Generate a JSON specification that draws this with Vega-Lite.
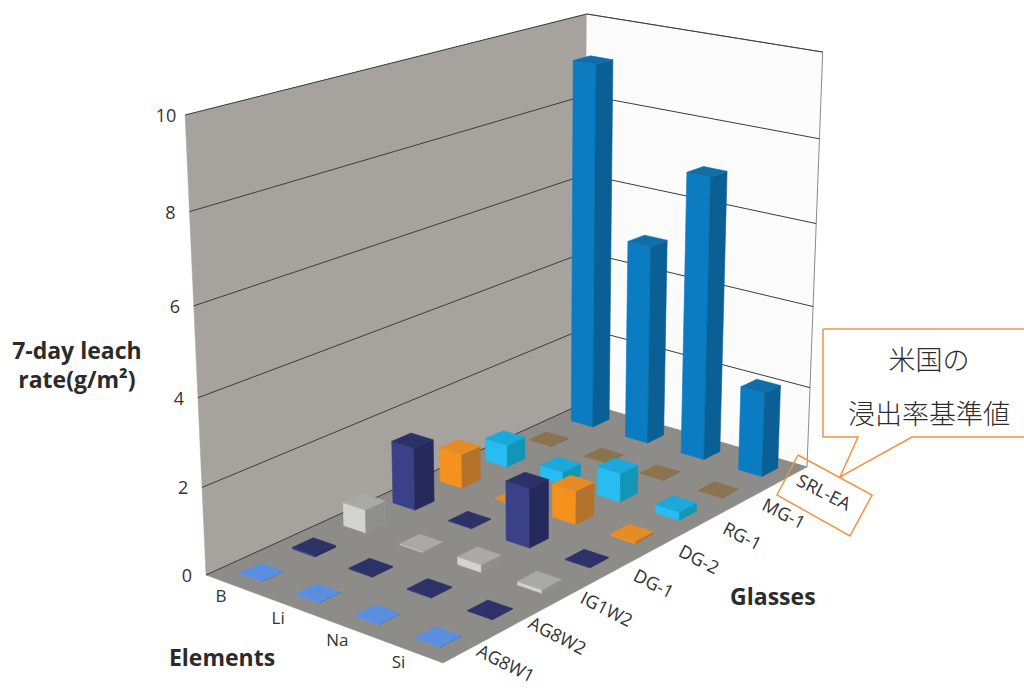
{
  "$schema": "https://vega.github.io/schema/vega-lite/v6.json",
  "width": 1024,
  "height": 688,
  "autosize": {"type": "fit", "contains": "padding"},
  "padding": 0,
  "background": "white",
  "view": {"stroke": null},
  "config": {"text": {"font": "Open Sans"}},
  "datasets": {
    "bars": [
      {"element": "B", "glass": "SRL-EA", "rate": 9.13},
      {"element": "B", "glass": "MG-1", "rate": 0.01},
      {"element": "B", "glass": "RG-1", "rate": 0.55},
      {"element": "B", "glass": "DG-2", "rate": 0.83},
      {"element": "B", "glass": "DG-1", "rate": 1.5},
      {"element": "B", "glass": "IG1W2", "rate": 0.55},
      {"element": "B", "glass": "AG8W2", "rate": 0.04},
      {"element": "B", "glass": "AG8W1", "rate": 0.01},
      {"element": "Li", "glass": "SRL-EA", "rate": 4.98},
      {"element": "Li", "glass": "MG-1", "rate": 0.01},
      {"element": "Li", "glass": "RG-1", "rate": 0.3},
      {"element": "Li", "glass": "DG-2", "rate": 0.02},
      {"element": "Li", "glass": "DG-1", "rate": 0.02},
      {"element": "Li", "glass": "IG1W2", "rate": 0.02},
      {"element": "Li", "glass": "AG8W2", "rate": 0.02},
      {"element": "Li", "glass": "AG8W1", "rate": 0.01},
      {"element": "Na", "glass": "SRL-EA", "rate": 6.97},
      {"element": "Na", "glass": "MG-1", "rate": 0.01},
      {"element": "Na", "glass": "RG-1", "rate": 0.7},
      {"element": "Na", "glass": "DG-2", "rate": 0.8},
      {"element": "Na", "glass": "DG-1", "rate": 1.4},
      {"element": "Na", "glass": "IG1W2", "rate": 0.18},
      {"element": "Na", "glass": "AG8W2", "rate": 0.02},
      {"element": "Na", "glass": "AG8W1", "rate": 0.01},
      {"element": "Si", "glass": "SRL-EA", "rate": 2.08},
      {"element": "Si", "glass": "MG-1", "rate": 0.01},
      {"element": "Si", "glass": "RG-1", "rate": 0.2},
      {"element": "Si", "glass": "DG-2", "rate": 0.06},
      {"element": "Si", "glass": "DG-1", "rate": 0.02},
      {"element": "Si", "glass": "IG1W2", "rate": 0.08},
      {"element": "Si", "glass": "AG8W2", "rate": 0.01},
      {"element": "Si", "glass": "AG8W1", "rate": 0.01}
    ],
    "scene": [
      {"kind": "leftWall", "seq": 0, "gp": 0, "ep": 0, "rate": 0},
      {"kind": "leftWall", "seq": 1, "gp": 8, "ep": 0, "rate": 0},
      {"kind": "leftWall", "seq": 2, "gp": 8, "ep": 0, "rate": 10},
      {"kind": "leftWall", "seq": 3, "gp": 0, "ep": 0, "rate": 10},
      {"kind": "leftWall", "seq": 4, "gp": 0, "ep": 0, "rate": 0},
      {"kind": "rightWall", "seq": 0, "gp": 8, "ep": 0, "rate": 0},
      {"kind": "rightWall", "seq": 1, "gp": 8, "ep": 4, "rate": 0},
      {"kind": "rightWall", "seq": 2, "gp": 8, "ep": 4, "rate": 10},
      {"kind": "rightWall", "seq": 3, "gp": 8, "ep": 0, "rate": 10},
      {"kind": "floor", "seq": 0, "gp": 0, "ep": 0, "rate": 0},
      {"kind": "floor", "seq": 1, "gp": 8, "ep": 0, "rate": 0},
      {"kind": "floor", "seq": 2, "gp": 8, "ep": 4, "rate": 0},
      {"kind": "floor", "seq": 3, "gp": 0, "ep": 4, "rate": 0},
      {"kind": "floor", "seq": 4, "gp": 0, "ep": 0, "rate": 0},
      {"kind": "grid", "level": 0, "seq": 0, "gp": 0, "ep": 0, "rate": 0},
      {"kind": "grid", "level": 0, "seq": 1, "gp": 8, "ep": 0, "rate": 0},
      {"kind": "grid", "level": 2, "seq": 0, "gp": 0, "ep": 0, "rate": 2},
      {"kind": "grid", "level": 2, "seq": 1, "gp": 8, "ep": 0, "rate": 2},
      {"kind": "grid", "level": 2, "seq": 2, "gp": 8, "ep": 4, "rate": 2},
      {"kind": "grid", "level": 4, "seq": 0, "gp": 0, "ep": 0, "rate": 4},
      {"kind": "grid", "level": 4, "seq": 1, "gp": 8, "ep": 0, "rate": 4},
      {"kind": "grid", "level": 4, "seq": 2, "gp": 8, "ep": 4, "rate": 4},
      {"kind": "grid", "level": 6, "seq": 0, "gp": 0, "ep": 0, "rate": 6},
      {"kind": "grid", "level": 6, "seq": 1, "gp": 8, "ep": 0, "rate": 6},
      {"kind": "grid", "level": 6, "seq": 2, "gp": 8, "ep": 4, "rate": 6},
      {"kind": "grid", "level": 8, "seq": 0, "gp": 0, "ep": 0, "rate": 8},
      {"kind": "grid", "level": 8, "seq": 1, "gp": 8, "ep": 0, "rate": 8},
      {"kind": "grid", "level": 8, "seq": 2, "gp": 8, "ep": 4, "rate": 8},
      {"kind": "grid", "level": 10, "seq": 0, "gp": 0, "ep": 0, "rate": 10},
      {"kind": "grid", "level": 10, "seq": 1, "gp": 8, "ep": 0, "rate": 10},
      {"kind": "grid", "level": 10, "seq": 2, "gp": 8, "ep": 4, "rate": 10},
      {"kind": "rateTick", "label": "0", "gp": 0, "ep": 0, "rate": 0},
      {"kind": "rateTick", "label": "2", "gp": 0, "ep": 0, "rate": 2},
      {"kind": "rateTick", "label": "4", "gp": 0, "ep": 0, "rate": 4},
      {"kind": "rateTick", "label": "6", "gp": 0, "ep": 0, "rate": 6},
      {"kind": "rateTick", "label": "8", "gp": 0, "ep": 0, "rate": 8},
      {"kind": "rateTick", "label": "10", "gp": 0, "ep": 0, "rate": 10},
      {"kind": "elementTick", "label": "B", "gp": 0, "ep": 0.5, "rate": 0},
      {"kind": "elementTick", "label": "Li", "gp": 0, "ep": 1.5, "rate": 0},
      {"kind": "elementTick", "label": "Na", "gp": 0, "ep": 2.5, "rate": 0},
      {"kind": "elementTick", "label": "Si", "gp": 0, "ep": 3.5, "rate": 0},
      {"kind": "glassTick", "label": "AG8W1", "gp": 0.5, "ep": 4, "rate": 0},
      {"kind": "glassTick", "label": "AG8W2", "gp": 1.5, "ep": 4, "rate": 0},
      {"kind": "glassTick", "label": "IG1W2", "gp": 2.5, "ep": 4, "rate": 0},
      {"kind": "glassTick", "label": "DG-1", "gp": 3.5, "ep": 4, "rate": 0},
      {"kind": "glassTick", "label": "DG-2", "gp": 4.5, "ep": 4, "rate": 0},
      {"kind": "glassTick", "label": "RG-1", "gp": 5.5, "ep": 4, "rate": 0},
      {"kind": "glassTick", "label": "MG-1", "gp": 6.5, "ep": 4, "rate": 0},
      {"kind": "glassTick", "label": "SRL-EA", "gp": 7.5, "ep": 4, "rate": 0},
      {"kind": "floorTitle", "label": "Elements", "gp": -1.595, "ep": 1.867, "rate": 0},
      {"kind": "floorTitle", "label": "Glasses", "gp": 4.04, "ep": 6.06, "rate": 0},
      {"kind": "rateTitle", "label": "7-day leach\nrate(g/m²)", "gp": 0, "ep": 0, "rate": 5},
      {"kind": "highlight", "seq": 0, "gp": 8.3, "ep": 3.651, "rate": 0},
      {"kind": "highlight", "seq": 1, "gp": 7.713, "ep": 5.26, "rate": 0},
      {"kind": "highlight", "seq": 2, "gp": 6.32, "ep": 5.777, "rate": 0},
      {"kind": "highlight", "seq": 3, "gp": 6.876, "ep": 4.236, "rate": 0},
      {"kind": "highlight", "seq": 4, "gp": 8.3, "ep": 3.651, "rate": 0},
      {"kind": "callout", "seq": 0, "gp": 13.147, "ep": 0.962, "rate": 0},
      {"kind": "callout", "seq": 1, "gp": 15.266, "ep": 3.528, "rate": 0},
      {"kind": "callout", "seq": 2, "gp": 11.015, "ep": 5.857, "rate": 0},
      {"kind": "callout", "seq": 3, "gp": 9.95, "ep": 4.56, "rate": 0},
      {"kind": "callout", "seq": 4, "gp": 7.984, "ep": 4.564, "rate": 0},
      {"kind": "callout", "seq": 5, "gp": 9.448, "ep": 3.946, "rate": 0},
      {"kind": "callout", "seq": 6, "gp": 9.121, "ep": 3.549, "rate": 0},
      {"kind": "callout", "seq": 7, "gp": 13.147, "ep": 0.962, "rate": 0},
      {"kind": "note", "label": "米国の", "gp": 12.89, "ep": 3.107, "rate": 0},
      {"kind": "note", "label": "浸出率基準値", "gp": 10.847, "ep": 4.316, "rate": 0}
    ]
  },
  "layer": [
    {
      "data": {"name": "scene"},
      "transform": [
        {"calculate": "1 + 0.17133 * datum.gp / 8 - 0.0665 * datum.ep / 4 - 0.06 * datum.rate / 10", "as": "depth"},
        {"calculate": "(206 + 478.06 * datum.gp / 8 + 207.54 * datum.ep / 4 - 32 * datum.rate / 10) / datum.depth", "as": "px"},
        {"calculate": "(575 - 102.95 * datum.gp / 8 + 43.91 * datum.ep / 4 + (-466.9 + 10.4 * datum.gp / 8 - 5.1 * datum.ep / 4) * datum.rate / 10) / datum.depth", "as": "py"}
      ],
      "encoding": {
        "x": {"field": "px", "type": "quantitative", "axis": null, "scale": {"domain": [0, 1024], "nice": false, "zero": false}},
        "y": {"field": "py", "type": "quantitative", "axis": null, "scale": {"domain": [0, 688], "reverse": true, "nice": false, "zero": false}}
      },
      "layer": [
        {
          "transform": [{"filter": "datum.kind === 'leftWall'"}],
          "mark": {"type": "line", "fill": "#a6a39f", "stroke": "#a6a39f", "strokeWidth": 0.5},
          "encoding": {"order": {"field": "seq"}}
        },
        {
          "transform": [{"filter": "datum.kind === 'rightWall'"}],
          "mark": {"type": "line", "fill": "#fbfbfb", "stroke": "#8a8a8a", "strokeWidth": 1},
          "encoding": {"order": {"field": "seq"}}
        },
        {
          "transform": [{"filter": "datum.kind === 'floor'"}],
          "mark": {"type": "line", "fill": "#8e8c88", "stroke": "#8e8c88", "strokeWidth": 0.5},
          "encoding": {"order": {"field": "seq"}}
        },
        {
          "transform": [{"filter": "datum.kind === 'grid'"}],
          "mark": {"type": "line", "stroke": "#3c3c3c", "strokeWidth": 1},
          "encoding": {"detail": {"field": "level"}, "order": {"field": "seq"}}
        },
        {
          "transform": [{"filter": "datum.kind === 'rateTick'"}],
          "mark": {"type": "text", "fontSize": 18, "fill": "#333333", "align": "center", "baseline": "middle", "dx": -19, "dy": 2},
          "encoding": {"text": {"field": "label"}}
        },
        {
          "transform": [{"filter": "datum.kind === 'elementTick'"}],
          "mark": {"type": "text", "fontSize": 17, "fill": "#333333", "align": "center", "baseline": "middle", "dx": -13, "dy": 12},
          "encoding": {"text": {"field": "label"}}
        },
        {
          "transform": [{"filter": "datum.kind === 'glassTick'"}],
          "mark": {"type": "text", "fontSize": 18, "fill": "#333333", "align": "center", "baseline": "middle", "angle": 27, "dx": 39, "dy": -2},
          "encoding": {"text": {"field": "label"}}
        },
        {
          "transform": [{"filter": "datum.kind === 'floorTitle'"}],
          "mark": {"type": "text", "fontSize": 23, "fontWeight": "bold", "fill": "#2b2b2b", "align": "center", "baseline": "middle"},
          "encoding": {"text": {"field": "label"}}
        },
        {
          "transform": [{"filter": "datum.kind === 'rateTitle'"}],
          "mark": {"type": "text", "fontSize": 23, "fontWeight": "bold", "fill": "#2b2b2b", "align": "center", "baseline": "middle", "lineBreak": "\n", "lineHeight": 29, "dx": -119},
          "encoding": {"text": {"field": "label"}}
        },
        {
          "transform": [{"filter": "datum.kind === 'highlight'"}],
          "mark": {"type": "line", "stroke": "#f09443", "strokeWidth": 1.5},
          "encoding": {"order": {"field": "seq"}}
        },
        {
          "transform": [{"filter": "datum.kind === 'callout'"}],
          "mark": {"type": "line", "fill": "#ffffff", "stroke": "#f09443", "strokeWidth": 1.5, "clip": true},
          "encoding": {"order": {"field": "seq"}}
        },
        {
          "transform": [{"filter": "datum.kind === 'note'"}],
          "mark": {"type": "text", "font": "Noto Sans CJK JP", "fontWeight": 300, "fontSize": 27, "fill": "#2b2b2b", "align": "center", "baseline": "middle"},
          "encoding": {"text": {"field": "label"}}
        }
      ]
    },
    {
      "data": {"name": "bars"},
      "transform": [
        {"calculate": "indexof(['AG8W1','AG8W2','IG1W2','DG-1','DG-2','RG-1','MG-1','SRL-EA'], datum.glass)", "as": "gi"},
        {"calculate": "indexof(['B','Li','Na','Si'], datum.element)", "as": "ei"},
        {"calculate": "['left','right','top']", "as": "faces"},
        {"flatten": ["faces"], "as": ["face"]},
        {"calculate": "[0,1,2,3,4]", "as": "corners"},
        {"flatten": ["corners"], "as": ["corner"]},
        {"calculate": "datum.gi + 0.5 + 0.2 * {left: [-1,-1,-1,-1,-1], right: [-1,1,1,-1,-1], top: [-1,1,1,-1,-1]}[datum.face][datum.corner]", "as": "gp"},
        {"calculate": "datum.ei + 0.5 + 0.2 * {left: [-1,1,1,-1,-1], right: [1,1,1,1,1], top: [-1,-1,1,1,-1]}[datum.face][datum.corner]", "as": "ep"},
        {"calculate": "datum.rate * {left: [0,0,1,1,0], right: [0,0,1,1,0], top: [1,1,1,1,1]}[datum.face][datum.corner]", "as": "level"},
        {"calculate": "1 + 0.17133 * datum.gp / 8 - 0.0665 * datum.ep / 4 - 0.06 * datum.level / 10", "as": "depth"},
        {"calculate": "(206 + 478.06 * datum.gp / 8 + 207.54 * datum.ep / 4 - 32 * datum.level / 10) / datum.depth", "as": "px"},
        {"calculate": "(575 - 102.95 * datum.gp / 8 + 43.91 * datum.ep / 4 + (-466.9 + 10.4 * datum.gp / 8 - 5.1 * datum.ep / 4) * datum.level / 10) / datum.depth", "as": "py"},
        {"calculate": "datum.element + '/' + datum.glass + '/' + datum.face", "as": "faceId"},
        {"calculate": "datum.glass + ' ' + datum.face", "as": "shade"}
      ],
      "mark": {"type": "line", "strokeWidth": 0.6},
      "encoding": {
        "x": {"field": "px", "type": "quantitative", "axis": null, "scale": {"domain": [0, 1024], "nice": false, "zero": false}},
        "y": {"field": "py", "type": "quantitative", "axis": null, "scale": {"domain": [0, 688], "reverse": true, "nice": false, "zero": false}},
        "detail": {"field": "faceId"},
        "order": {"field": "corner"},
        "fill": {
          "field": "shade",
          "legend": null,
          "scale": {
            "domain": [
              "AG8W1 left", "AG8W1 right", "AG8W1 top",
              "AG8W2 left", "AG8W2 right", "AG8W2 top",
              "IG1W2 left", "IG1W2 right", "IG1W2 top",
              "DG-1 left", "DG-1 right", "DG-1 top",
              "DG-2 left", "DG-2 right", "DG-2 top",
              "RG-1 left", "RG-1 right", "RG-1 top",
              "MG-1 left", "MG-1 right", "MG-1 top",
              "SRL-EA left", "SRL-EA right", "SRL-EA top"
            ],
            "range": [
              "#6a9ce6", "#3f6db3", "#5a8fe0",
              "#3a4186", "#25295c", "#2c3268",
              "#d2d2ce", "#8f8f8b", "#a9a9a5",
              "#3a4186", "#25295c", "#2c3268",
              "#f5921e", "#b3732a", "#e58c26",
              "#27bdf0", "#1296b8", "#1ba8da",
              "#9a8058", "#6d5a40", "#8b7350",
              "#0b7cc2", "#0a5f94", "#0d6eaa"
            ]
          }
        },
        "stroke": {
          "field": "shade",
          "legend": null,
          "scale": {
            "domain": [
              "AG8W1 left", "AG8W1 right", "AG8W1 top",
              "AG8W2 left", "AG8W2 right", "AG8W2 top",
              "IG1W2 left", "IG1W2 right", "IG1W2 top",
              "DG-1 left", "DG-1 right", "DG-1 top",
              "DG-2 left", "DG-2 right", "DG-2 top",
              "RG-1 left", "RG-1 right", "RG-1 top",
              "MG-1 left", "MG-1 right", "MG-1 top",
              "SRL-EA left", "SRL-EA right", "SRL-EA top"
            ],
            "range": [
              "#6a9ce6", "#3f6db3", "#5a8fe0",
              "#3a4186", "#25295c", "#2c3268",
              "#d2d2ce", "#8f8f8b", "#a9a9a5",
              "#3a4186", "#25295c", "#2c3268",
              "#f5921e", "#b3732a", "#e58c26",
              "#27bdf0", "#1296b8", "#1ba8da",
              "#9a8058", "#6d5a40", "#8b7350",
              "#0b7cc2", "#0a5f94", "#0d6eaa"
            ]
          }
        }
      }
    }
  ]
}
